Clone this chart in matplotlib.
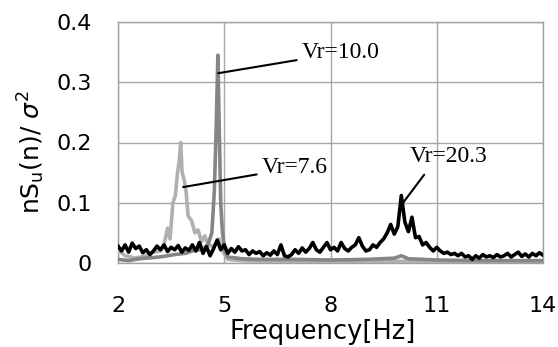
import matplotlib
matplotlib.use("Agg")
import matplotlib.pyplot as plt
import numpy as np

# ---- data ----
freq_black = [round(2.0 + 0.1 * i, 1) for i in range(121)]
val_203 = [0.028, 0.020, 0.030, 0.018, 0.033, 0.024, 0.028, 0.017, 0.022, 0.014,
           0.020, 0.028, 0.022, 0.030, 0.019, 0.026, 0.022, 0.029, 0.018, 0.025,
           0.021, 0.030, 0.020, 0.034, 0.016, 0.027, 0.012, 0.024, 0.038, 0.022,
           0.030, 0.016, 0.024, 0.018, 0.027, 0.020, 0.022, 0.014, 0.020, 0.016,
           0.019, 0.012, 0.017, 0.013, 0.020, 0.014, 0.030, 0.012, 0.010, 0.014,
           0.022, 0.016, 0.025, 0.018, 0.024, 0.034, 0.022, 0.018, 0.026, 0.034,
           0.022, 0.026, 0.020, 0.034, 0.024, 0.020, 0.026, 0.030, 0.042, 0.028,
           0.020, 0.022, 0.030, 0.026, 0.034, 0.040, 0.050, 0.064, 0.048, 0.060,
           0.112, 0.068, 0.052, 0.076, 0.042, 0.044, 0.030, 0.034, 0.026, 0.020,
           0.026, 0.020, 0.016, 0.018, 0.014, 0.016, 0.012, 0.016, 0.010, 0.012,
           0.006, 0.012, 0.008, 0.014, 0.010, 0.012, 0.009, 0.014, 0.010, 0.012,
           0.016, 0.010, 0.014, 0.018, 0.011, 0.015, 0.010, 0.016, 0.012, 0.017,
           0.013]

freq_100 = [2.0, 2.3, 2.6, 3.0, 3.3, 3.6, 3.9, 4.1, 4.3, 4.45, 4.55, 4.65, 4.72,
            4.77, 4.82, 4.86, 4.9, 4.95, 5.02, 5.1, 5.5, 6.0, 7.0, 8.0, 9.0, 9.8,
            10.0, 10.2, 11.0, 12.0, 13.0, 14.0]
val_100 = [0.006, 0.004, 0.007, 0.009, 0.011, 0.014, 0.016, 0.020, 0.022, 0.026,
           0.032, 0.050, 0.120, 0.220, 0.345, 0.220, 0.100, 0.050, 0.020, 0.010,
           0.007, 0.006, 0.006, 0.005, 0.006, 0.008, 0.012, 0.007, 0.005, 0.004,
           0.004, 0.004]

freq_76 = [2.0, 2.2, 2.5, 2.8, 3.0, 3.2, 3.3, 3.4, 3.47, 3.55, 3.62, 3.68, 3.73,
           3.77, 3.81, 3.86, 3.92, 3.98, 4.08, 4.17, 4.26, 4.36, 4.45, 4.55, 4.65,
           4.75, 4.85, 4.95, 5.1, 5.5, 6.0, 8.0, 10.0, 12.0, 14.0]
val_76 = [0.022, 0.012, 0.008, 0.012, 0.018, 0.020, 0.030, 0.058, 0.040, 0.100,
          0.112, 0.150, 0.170, 0.200, 0.150, 0.140, 0.120, 0.078, 0.070, 0.050,
          0.055, 0.035, 0.045, 0.030, 0.028, 0.030, 0.040, 0.020, 0.006, 0.004,
          0.003, 0.003, 0.003, 0.002, 0.002]

x_ticks = [2, 5, 8, 11, 14]
y_ticks = [0, 0.1, 0.2, 0.3, 0.4]
y_tick_labels = ["0", "0.1", "0.2", "0.3", "0.4"]

labels = ["Vr=7.6", "Vr=10.0", "Vr=20.3"]

# ---- figure ----
plt.rcParams['font.family'] = ['DejaVu Sans']
fig = plt.figure(figsize=(5.58, 3.47), dpi=100)
ax = fig.add_axes([118 / 558, 1 - 263 / 347, (543 - 118) / 558, (263 - 22) / 347])

ax.plot(freq_76, val_76, color='#b0b0b0', lw=2.6, zorder=3, solid_joinstyle='round')
ax.plot(freq_100, val_100, color='#858585', lw=2.6, zorder=4, solid_joinstyle='round')
ax.plot(freq_black, val_203, color='black', lw=2.6, zorder=5, solid_joinstyle='round')

ax.set_xlim(2, 14)
ax.set_ylim(0, 0.4)
ax.set_xticks(x_ticks)
ax.set_xticklabels([str(t) for t in x_ticks])
ax.set_yticks(y_ticks)
ax.set_yticklabels(y_tick_labels)
ax.tick_params(axis='both', length=0, labelsize=16)
ax.tick_params(axis='x', pad=24)
ax.tick_params(axis='y', pad=19)
ax.grid(True, color='#a6a6a6', lw=1, zorder=0)
ax.set_axisbelow(True)
for s in ax.spines.values():
    s.set_color('#a0a0a0')
    s.set_linewidth(1)

serif = ['Liberation Serif', 'DejaVu Serif']
ax.annotate(labels[1], xy=(4.83, 0.315), xytext=(7.2, 0.349),
            fontsize=17, family=serif, ha='left', va='center',
            arrowprops=dict(arrowstyle='-', color='black', lw=1.5, shrinkA=2, shrinkB=0),
            zorder=6)
ax.annotate(labels[0], xy=(3.84, 0.126), xytext=(6.07, 0.158),
            fontsize=17, family=serif, ha='left', va='center',
            arrowprops=dict(arrowstyle='-', color='black', lw=1.5, shrinkA=2, shrinkB=0),
            zorder=6)
ax.annotate(labels[2], xy=(10.05, 0.1), xytext=(10.25, 0.176),
            fontsize=17, family=serif, ha='left', va='center',
            arrowprops=dict(arrowstyle='-', color='black', lw=1.5, shrinkA=4, shrinkB=0,
                            relpos=(0.25, 0.0)),
            zorder=6)

fig.text(323 / 558, 1 - 332 / 347, 'Frequency[Hz]', fontsize=18.5, ha='center', va='center')
fig.text(31 / 558, 1 - 152 / 347, r'nS$_\mathregular{u}$(n)/ $\sigma^2$', fontsize=18,
         rotation=90, ha='center', va='center')

fig.savefig('out.png', dpi=100)
